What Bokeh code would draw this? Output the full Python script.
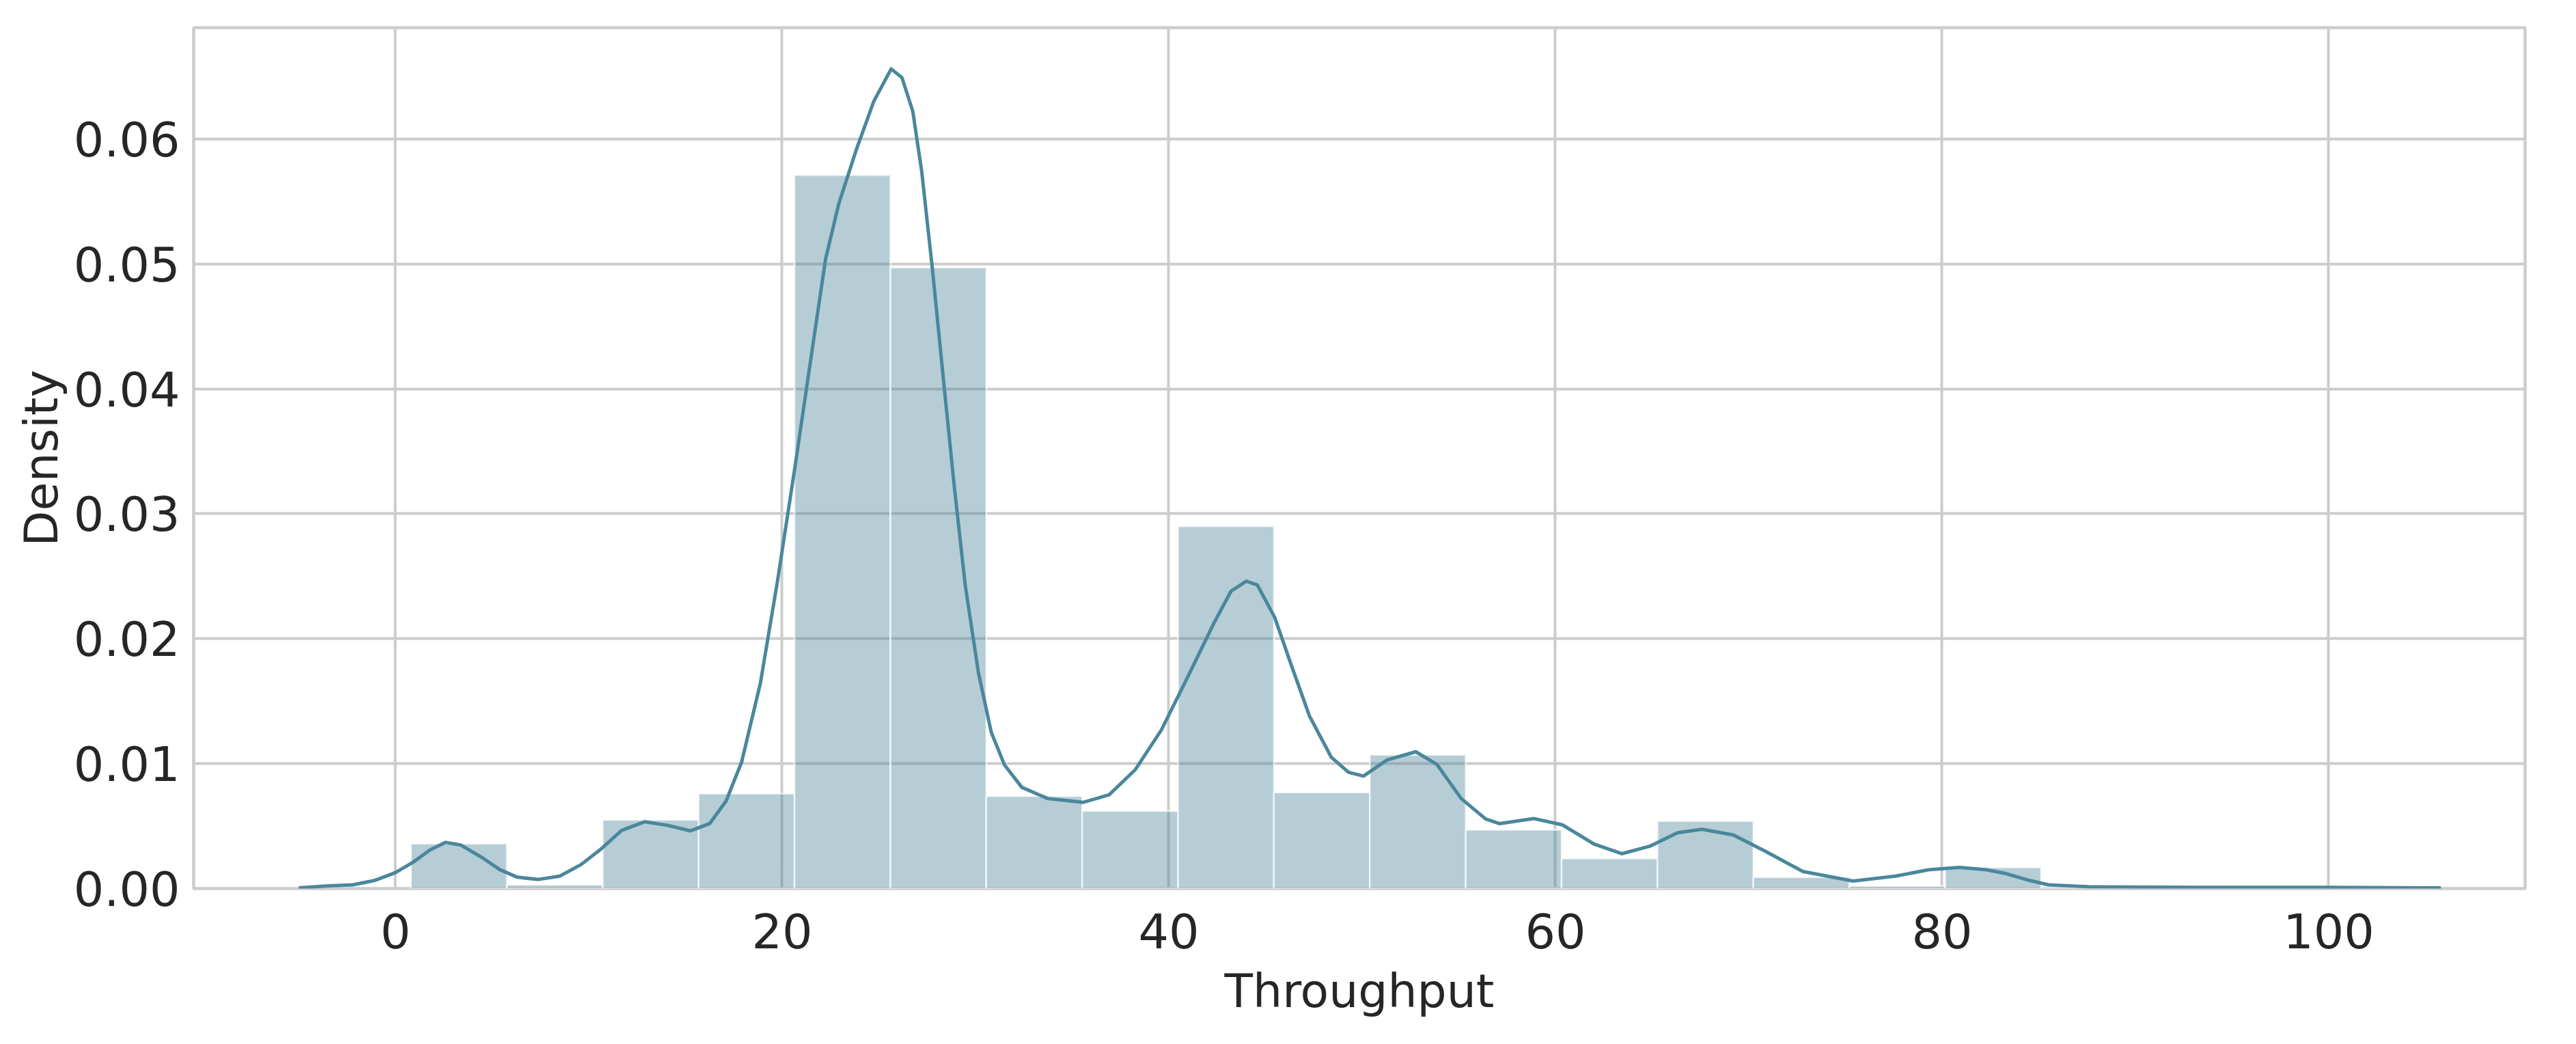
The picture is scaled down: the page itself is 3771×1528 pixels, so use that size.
from bokeh.plotting import figure
from bokeh.models import FixedTicker, NumeralTickFormatter, Range1d, ColumnDataSource
from bokeh.embed import file_html
from bokeh.resources import INLINE

# Histogram (density) bins
bin_left = [0.8, 5.76, 10.72, 15.68, 20.64, 25.6, 30.56, 35.52, 40.48, 45.44,
            50.4, 55.36, 60.32, 65.28, 70.24, 75.2, 80.16, 85.12, 90.08, 95.04]
bin_right = [5.76, 10.72, 15.68, 20.64, 25.6, 30.56, 35.52, 40.48, 45.44, 50.4,
             55.36, 60.32, 65.28, 70.24, 75.2, 80.16, 85.12, 90.08, 95.04, 100.0]
bin_density = [0.0036, 0.0003, 0.0055, 0.0076, 0.0571, 0.0497, 0.0074, 0.0062, 0.0290, 0.0077,
               0.0107, 0.0047, 0.0024, 0.0054, 0.0009, 0.0002, 0.0017, 0.0, 0.0, 0.0001]

# KDE curve
kde_x = [-5.0, -3.6, -2.2, -1.1, 0.0, 0.9, 1.8, 2.6, 3.4, 4.5, 5.4, 6.3, 7.4, 8.5, 9.6,
         10.65, 11.7, 12.9, 14.1, 15.25, 16.25, 17.1, 17.9, 18.87, 19.77, 20.68, 21.58,
         22.25, 22.93, 23.83, 24.74, 25.64, 26.2, 26.76, 27.22, 27.78, 28.34, 28.91,
         29.47, 30.15, 30.82, 31.5, 32.4, 33.75, 35.56, 36.91, 38.26, 39.62, 40.97,
         42.32, 43.22, 44.01, 44.58, 45.48, 46.38, 47.28, 48.41, 49.3, 50.07, 51.3,
         52.78, 53.86, 55.13, 56.39, 57.1, 58.9, 60.36, 62.0, 63.43, 64.87, 66.32,
         67.58, 69.2, 70.83, 72.8, 75.4, 77.6, 79.3, 80.9, 82.3, 83.3, 84.4, 85.5,
         87.8, 93.4, 100.0, 105.8]
kde_y = [0.00005, 0.0002, 0.0003, 0.00064, 0.00128, 0.0021, 0.0031, 0.0037, 0.00347,
         0.00246, 0.00151, 0.00091, 0.00073, 0.0010, 0.00192, 0.00319, 0.00465, 0.00535,
         0.00505, 0.00462, 0.0052, 0.0070, 0.0101, 0.0164, 0.0247, 0.0339, 0.0434,
         0.0504, 0.0548, 0.0591, 0.0630, 0.0656, 0.0649, 0.0622, 0.0574, 0.0495, 0.0408,
         0.0321, 0.0243, 0.0173, 0.0125, 0.0099, 0.0081, 0.0072, 0.0069, 0.0075, 0.0095,
         0.0127, 0.0169, 0.0212, 0.0238, 0.0246, 0.0243, 0.0217, 0.0177, 0.0138, 0.0105,
         0.0093, 0.0090, 0.0103, 0.01095, 0.00995, 0.0072, 0.00557, 0.0052, 0.0056,
         0.0051, 0.00356, 0.00279, 0.00338, 0.00447, 0.00474, 0.00429, 0.00301, 0.00137,
         0.0006, 0.0010, 0.0015, 0.0017, 0.0015, 0.0012, 0.0007, 0.0003, 0.00013,
         0.00009, 0.00009, 0.00005]

x_ticks = [0, 20, 40, 60, 80, 100]
y_ticks = [0.00, 0.01, 0.02, 0.03, 0.04, 0.05, 0.06]

BASE = "#488298"
LINE = "#4a879c"
GRID = "#cccccc"
TEXT = "#262626"
FONT = "DejaVu Sans"

p = figure(frame_width=3413, frame_height=1260,
           x_range=Range1d(-10.44, 110.16), y_range=Range1d(0, 0.0689),
           output_backend="svg", toolbar_location=None,
           min_border_left=283, min_border_right=60, min_border_top=40, min_border_bottom=215,
           background_fill_color="white", border_fill_color="white")

hist_src = ColumnDataSource(dict(left=bin_left, right=bin_right, top=bin_density,
                                 bottom=[0.0] * len(bin_density)))
p.quad(left="left", right="right", top="top", bottom="bottom", source=hist_src,
       fill_color=BASE, fill_alpha=0.4, line_color="white", line_width=2.5, line_alpha=0.7)

p.line(kde_x, kde_y, line_color=LINE, line_width=5, line_join="round")

p.outline_line_color = GRID
p.outline_line_width = 4.5
p.outline_line_alpha = 1.0

for g in (p.xgrid, p.ygrid):
    g.grid_line_color = GRID
    g.grid_line_width = 4
p.xgrid.ticker = FixedTicker(ticks=x_ticks)
p.ygrid.ticker = FixedTicker(ticks=y_ticks)

p.xaxis.ticker = FixedTicker(ticks=x_ticks)
p.yaxis.ticker = FixedTicker(ticks=y_ticks)
p.yaxis.formatter = NumeralTickFormatter(format="0.00")

for ax in (p.xaxis, p.yaxis):
    ax.axis_line_color = None
    ax.major_tick_line_color = None
    ax.minor_tick_line_color = None
    ax.major_label_text_font = FONT
    ax.major_label_text_font_size = "70px"
    ax.major_label_text_color = TEXT
    ax.axis_label_text_font = FONT
    ax.axis_label_text_font_size = "68px"
    ax.axis_label_text_color = TEXT
    ax.axis_label_text_font_style = "normal"

p.xaxis.axis_label = "Throughput"
p.yaxis.axis_label = "Density"
p.xaxis.major_label_standoff = 30
p.xaxis.axis_label_standoff = 20
p.yaxis.major_label_standoff = 14
p.yaxis.axis_label_standoff = 5

open("out.html", "w").write(file_html(p, INLINE))
